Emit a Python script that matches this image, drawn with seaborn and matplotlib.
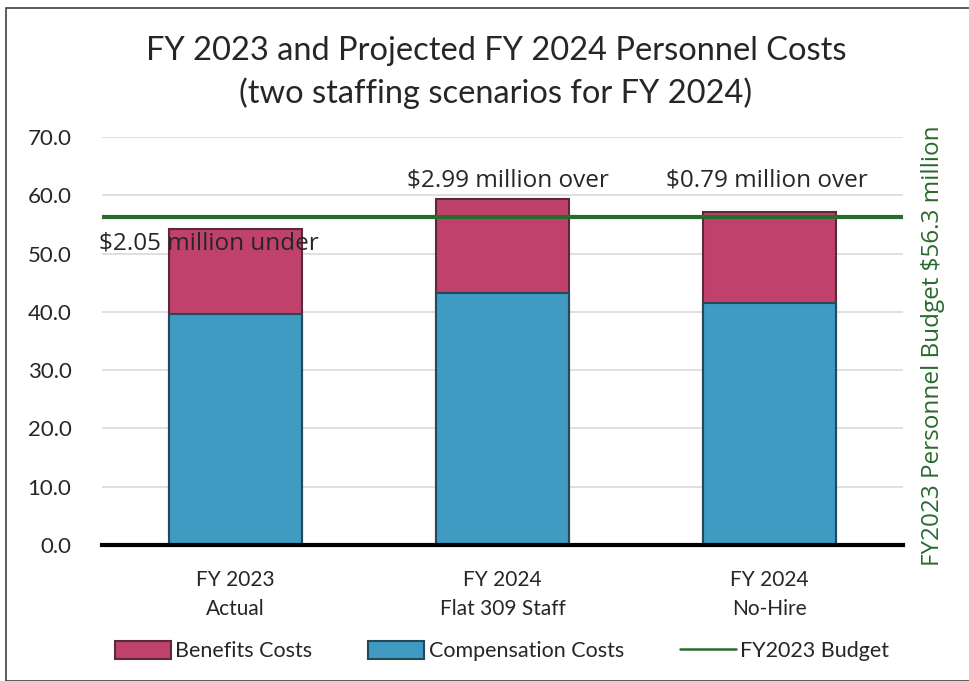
import matplotlib
matplotlib.use("Agg")
import matplotlib.pyplot as plt
import matplotlib.patches as mpatches
from matplotlib.lines import Line2D
import seaborn as sns
import pandas as pd

# --- data ---
categories = ["FY 2023\nActual", "FY 2024\nFlat 309 Staff", "FY 2024\nNo-Hire"]
compensation = [39.7, 43.2, 41.6]
benefits = [14.55, 16.09, 15.49]
budget = 56.3
notes = ["$2.05 million under", "$2.99 million over", "$0.79 million over"]

BEN_COLOR = "#C0426C"
COMP_COLOR = "#3F9BC2"
BUDGET_COLOR = "#2A6A2E"
SANS = ["Open Sans", "DejaVu Sans"]

df = pd.DataFrame({"Scenario": categories,
                   "Compensation": compensation,
                   "Benefits": benefits})
df["Total"] = df["Compensation"] + df["Benefits"]

sns.set_theme(style="white")
plt.rcParams["font.family"] = ["Lato", "DejaVu Sans"]

fig = plt.figure(figsize=(9.69, 6.81), dpi=100)
ax = fig.add_axes([102 / 969, 1 - 545 / 681, 801 / 969, 408 / 681])

# stacked bars: total (benefits on top) drawn first, compensation over it
sns.barplot(data=df, x="Scenario", y="Total", color=BEN_COLOR, width=0.5,
            edgecolor="#5A2A3C", linewidth=1.5, saturation=1, ax=ax, zorder=2)
sns.barplot(data=df, x="Scenario", y="Compensation", color=COMP_COLOR, width=0.5,
            edgecolor="#23495A", linewidth=1.5, saturation=1, ax=ax, zorder=3)

ax.axhline(budget, color=BUDGET_COLOR, lw=3, zorder=4)

ax.set_ylim(0, 70)
ax.set_xlim(-0.5, 2.5)
ax.set_yticks(range(0, 71, 10))
ax.set_yticklabels([f"{v:.1f}" for v in range(0, 71, 10)], fontsize=16)
ax.tick_params(axis="y", pad=22, length=0)
ax.set_xticks(range(len(categories)))
ax.set_xticklabels(categories, fontsize=15, linespacing=1.55)
ax.tick_params(axis="x", pad=18, length=0)
ax.set_xlabel("")
ax.set_ylabel("")
ax.yaxis.grid(True, color="#D9D9D9", lw=1.2, zorder=0)
ax.set_axisbelow(True)
for s in ["top", "left", "right"]:
    ax.spines[s].set_visible(False)
ax.spines["bottom"].set_color("black")
ax.spines["bottom"].set_linewidth(3)
ax.spines["bottom"].set_zorder(5)

# annotations
ax.text(-0.51, 51.7, notes[0], ha="left", va="center", fontsize=17.5,
        family=SANS, zorder=6)
ax.text(1.02, 62.6, notes[1], ha="center", va="center", fontsize=17.5,
        family=SANS, zorder=6)
ax.text(1.99, 62.6, notes[2], ha="center", va="center", fontsize=17.5,
        family=SANS, zorder=6)

fig.text(933 / 969, 1 - 346 / 681, "FY2023 Personnel Budget $56.3 million",
         rotation=90, ha="center", va="center", fontsize=17.5,
         color=BUDGET_COLOR, family=SANS)

fig.suptitle("FY 2023 and Projected FY 2024 Personnel Costs\n(two staffing scenarios for FY 2024)",
             y=1 - 36 / 681, va="top", fontsize=23.5, linespacing=1.45, x=496 / 969)

handles = [
    mpatches.Patch(facecolor=BEN_COLOR, edgecolor="#5A2A3C", lw=1.5, label="Benefits Costs"),
    mpatches.Patch(facecolor=COMP_COLOR, edgecolor="#23495A", lw=1.5, label="Compensation Costs"),
    Line2D([0], [0], color=BUDGET_COLOR, lw=1.8, label="FY2023 Budget"),
]
fig.legend(handles=handles, loc="center", bbox_to_anchor=(502 / 969, 1 - 651 / 681),
           ncol=3, frameon=False, fontsize=15.5, handlelength=2.6, handleheight=0.9,
           handletextpad=0.2, columnspacing=2.6)

fig.patches.append(mpatches.Rectangle((6 / 969, 0), 1.1, 1 - 8 / 681,
                                      transform=fig.transFigure, fill=False,
                                      edgecolor="#404040", lw=1.2))

fig.savefig("out.png", dpi=100)
